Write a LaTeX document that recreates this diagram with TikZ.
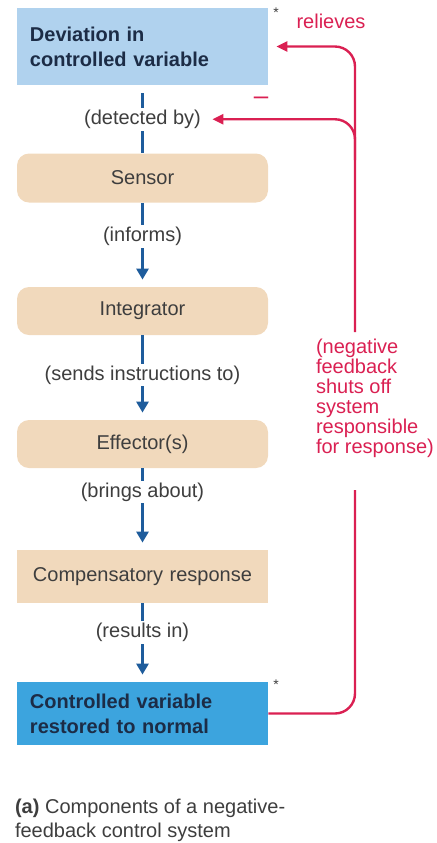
\documentclass[tikz,border=0pt]{standalone}
\usepackage{fontspec}
\setmainfont{Liberation Sans}
\usetikzlibrary{arrows.meta}

\definecolor{paleblue}{RGB}{176,210,238}
\definecolor{midblue}{RGB}{60,164,222}
\definecolor{tanbox}{RGB}{241,217,188}
\definecolor{navytext}{RGB}{28,44,70}
\definecolor{greytext}{RGB}{62,62,62}
\definecolor{flowblue}{RGB}{30,92,156}
\definecolor{fbred}{RGB}{218,32,82}

\begin{document}
\begin{tikzpicture}[x=0.5pt, y=-0.5pt,
    box/.style={rectangle, minimum width=125.5pt, text width=112.5pt,
      inner xsep=6.5pt, font=\fontsize{10}{12.5}\selectfont},
    varbox/.style={box, align=left, text=navytext, font=\fontsize{10}{12.5}\selectfont\bfseries},
    stepbox/.style={box, fill=tanbox, align=center, text=greytext, rounded corners=6pt},
    flow/.style={line width=1.5pt, draw=flowblue, -{Triangle[length=5.5pt,width=6pt]}, shorten >=3.5pt},
    lbl/.style={fill=white, inner sep=1pt, text=greytext, font=\fontsize{10}{12}\selectfont},
    fb/.style={line width=1.2pt, draw=fbred, rounded corners=10pt},
    fbtip/.style={-{Triangle[length=5.5pt,width=5pt]}, shorten >=4pt},
    redtext/.style={text=fbred, font=\fontsize{10}{10}\selectfont}]
  \useasboundingbox (0,0) rectangle (436,843);

  % the loop, top to bottom
  \node[varbox, fill=paleblue, minimum height=38.5pt] (dev) at (142.5,46.5)
    {Deviation in\\controlled variable};
  \node[stepbox, minimum height=24.5pt] (sen) at (142.5,178) {Sensor};
  \node[stepbox, minimum height=24pt] (int) at (142.5,311) {Integrator};
  \node[stepbox, minimum height=24pt] (eff) at (142.5,444) {Effector(s)};
  \node[stepbox, rounded corners=0pt, minimum height=26.5pt] (comp) at (142.5,576.5)
    {Compensatory response};
  \node[varbox, fill=midblue, minimum height=31.5pt] (res) at (142.5,713.5)
    {Controlled variable\\restored to normal};

  \draw[line width=1.5pt, draw=flowblue, shorten <=4pt] (dev) -- node[lbl] (det) {(detected by)} (sen);
  \draw[flow] (sen) -- node[lbl, pos=0.4] {(informs)} (int);
  \draw[flow] (int) -- node[lbl, pos=0.47] {(sends instructions to)} (eff);
  \draw[flow] (eff) -- node[lbl, pos=0.29] {(brings about)} (comp);
  \draw[flow] (comp) -- node[lbl, pos=0.37] {(results in)} (res);

  \node[font=\fontsize{7}{7}\selectfont, text=greytext] (ast1) at (276,13) {*};
  \node[font=\fontsize{7}{7}\selectfont, text=greytext] (ast2) at (276,685) {*};

  % negative feedback
  \node[redtext, align=left, anchor=west] (neg) at (309,398)
    {(negative\\feedback\\shuts off\\system\\responsible\\for response)};
  \coordinate (fbbot) at (355,490);
  \coordinate (fbtop) at (355,332);
  \coordinate (fbfork) at (355,160);
  \draw[fb] (res.east) -| (fbbot);
  \draw[fb, fbtip] (fbtop) |- (dev.east);
  \draw[fb, fbtip] (fbfork) |- (det.east);
  \node[redtext] (rel) at (331,21) {relieves};
  \node[redtext, font=\fontsize{13}{13}\selectfont] (minus) at (261,101) {--};

  % caption
  \node[anchor=west, align=left, text=greytext, font=\fontsize{10}{12}\selectfont] (cap) at (8,820)
    {\textbf{(a)} Components of a negative-\\feedback control system};
\end{tikzpicture}
\end{document}
